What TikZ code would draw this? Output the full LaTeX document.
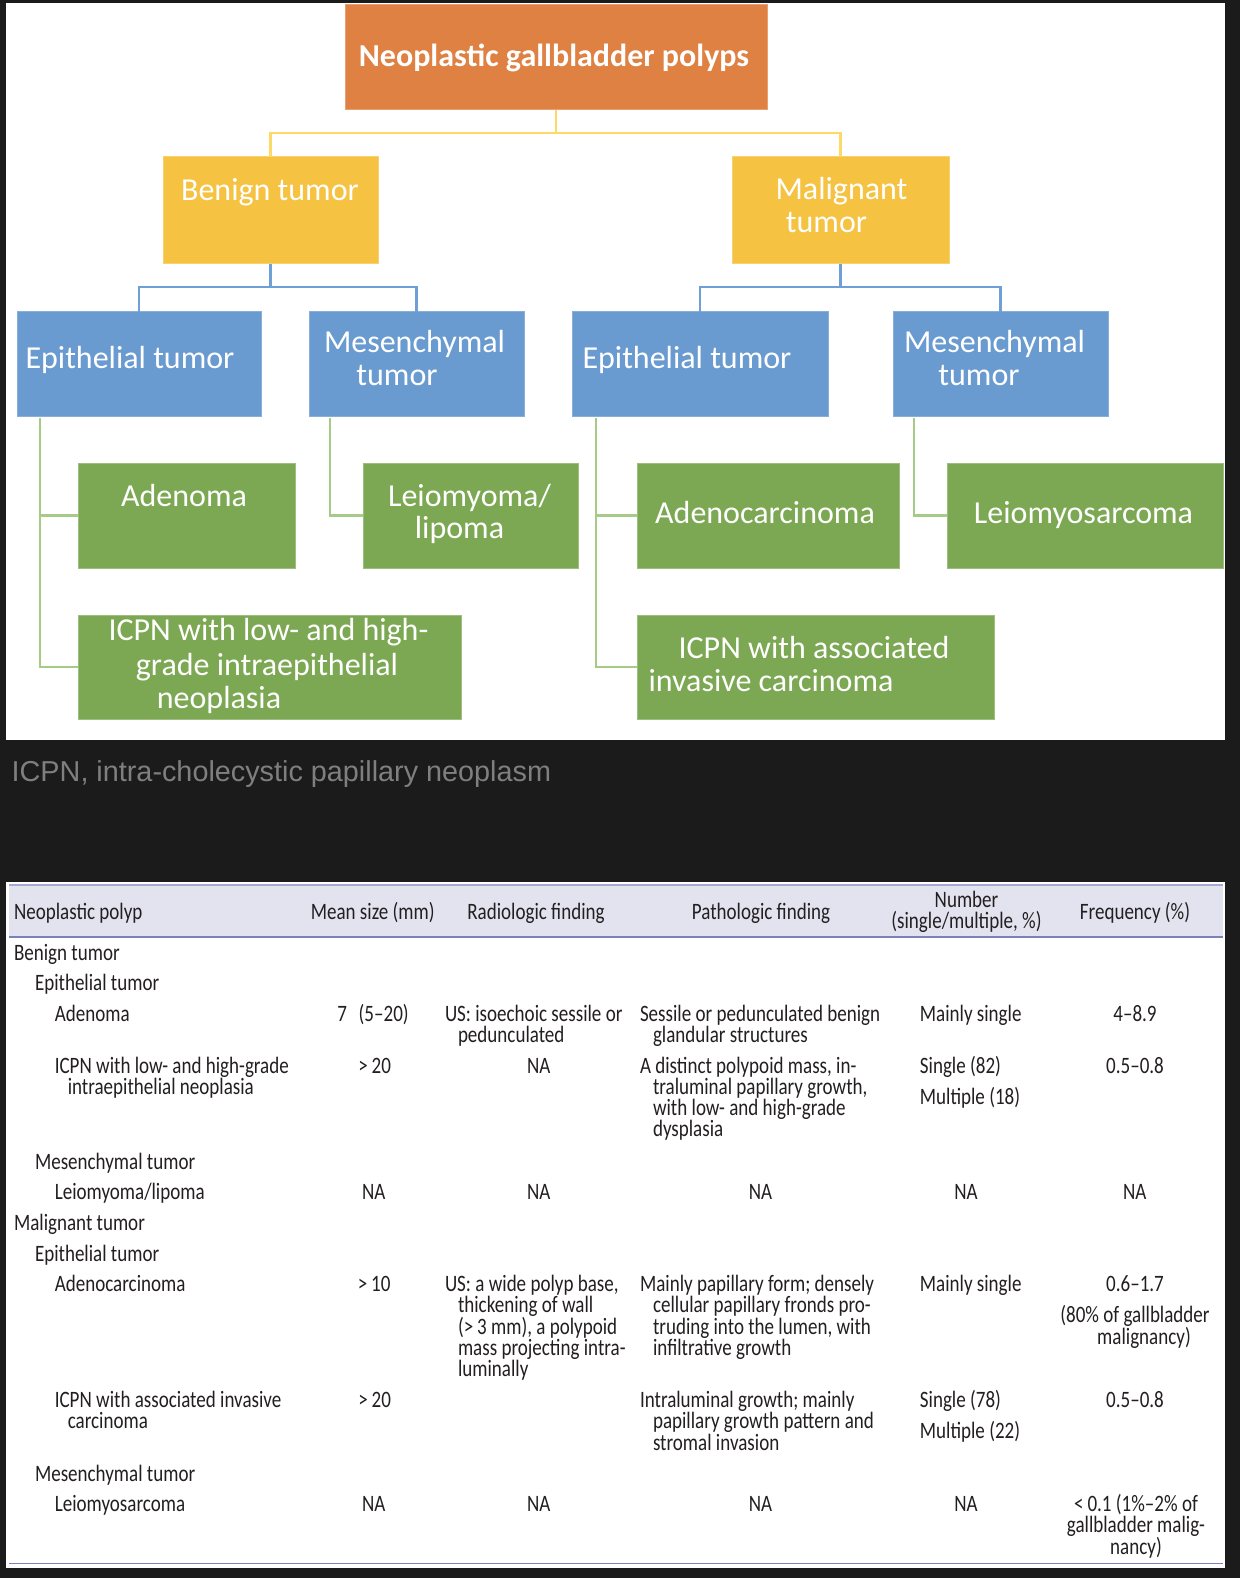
\documentclass[tikz,border=0pt]{standalone}
\usepackage{fontspec}
\setmainfont{Carlito}
\newfontfamily\tabfont{Carlito}[FakeStretch=0.81]
\newfontfamily\capfont{Liberation Sans}
\definecolor{bgdark}{HTML}{1B1B1B}
\definecolor{orangeF}{HTML}{DF8143}
\definecolor{yellowF}{HTML}{F5C242}
\definecolor{blueF}{HTML}{6A9BD0}
\definecolor{greenF}{HTML}{7CA853}
\definecolor{yconnC}{HTML}{FFD966}
\definecolor{bconnC}{HTML}{6F9FD7}
\definecolor{gconnC}{HTML}{A6CB87}
\definecolor{captxt}{HTML}{7F7F7F}
\definecolor{hdrfill}{HTML}{E3E3F0}
\definecolor{hdrline}{HTML}{7C81B9}
\definecolor{hdrtop}{HTML}{A4A8D2}
\definecolor{tabtxt}{HTML}{231F20}
\newcommand\ind{\hspace*{13pt}}
\newcommand\gap{\noalign{\vskip10pt}}
\newcommand\tcl[2][21.2pt]{\vtop{\baselineskip=#1\lineskiplimit=-100pt\lineskip=0pt\let\\\cr\halign{##\hfil\cr#2\crcr}}}
\newcommand\tcc[2][21.2pt]{\vtop{\baselineskip=#1\lineskiplimit=-100pt\lineskip=0pt\let\\\cr\halign{\hfil##\hfil\cr#2\crcr}}}
\tikzset{
  bx/.style={anchor=north west, inner sep=0pt, outer sep=0pt, line width=1pt},
  obx/.style={bx, fill=orangeF, draw=orangeF!75!white},
  ybx/.style={bx, fill=yellowF, draw=yellowF!75!white},
  bbx/.style={bx, fill=blueF, draw=blueF!80!white},
  gbx/.style={bx, fill=greenF, draw=greenF!75!white},
  yconn/.style={draw=yconnC, line width=2.6pt},
  bconn/.style={draw=bconnC, line width=2.6pt},
  gconn/.style={draw=gconnC, line width=2.6pt},
  dtx/.style={anchor=base, inner sep=0pt, text=white, font=\fontsize{32}{38}\selectfont},
  dtxb/.style={dtx, font=\bfseries\fontsize{32}{38}\selectfont},
  tl/.style={anchor=base west, inner sep=0pt, text=tabtxt, font=\tabfont\fontsize{23.5}{21.2}\selectfont},
  tcn/.style={tl, anchor=base},
}
\begin{document}
\begin{tikzpicture}[x=1pt,y=-1pt]
\fill[bgdark] (0,0) rectangle (1240,1578);
\useasboundingbox (0,0) rectangle (1240,1578);
% panels
\fill[white] (6,3) rectangle (1225,740);
\fill[white] (6,882) rectangle (1225,1568);

% ---- diagram boxes
\node[obx, minimum width=422pt, minimum height=105pt] (root) at (345,5) {};
\node[ybx, minimum width=215pt, minimum height=107pt] (benign) at (163,157) {};
\node[ybx, minimum width=217pt, minimum height=107pt] (malig) at (732,157) {};
\node[bbx, minimum width=244pt, minimum height=104pt] (bepi) at (17,312) {};
\node[bbx, minimum width=215pt, minimum height=104pt] (bmes) at (309,312) {};
\node[bbx, minimum width=256pt, minimum height=104pt] (mepi) at (572,312) {};
\node[bbx, minimum width=215pt, minimum height=104pt] (mmes) at (893,312) {};
\node[gbx, minimum width=217pt, minimum height=105pt] (aden) at (78,463) {};
\node[gbx, minimum width=215pt, minimum height=105pt] (leio) at (363,463) {};
\node[gbx, minimum width=383pt, minimum height=104pt] (icpnA) at (78,615) {};
\node[gbx, minimum width=262pt, minimum height=105pt] (adeno) at (637,463) {};
\node[gbx, minimum width=276pt, minimum height=105pt] (leios) at (947,463) {};
\node[gbx, minimum width=357pt, minimum height=104pt] (icpnB) at (637,615) {};

% ---- connectors
\coordinate (ry) at ([yshift=-23pt]root.south);
\draw[yconn] (root.south) -- (ry) -| (benign.north);
\draw[yconn] (ry) -| (malig.north);
\coordinate (by) at ([yshift=-23pt]benign.south);
\draw[bconn] (benign.south) -- (by) -| (bepi.north);
\draw[bconn] (by) -| (bmes.north);
\coordinate (my) at ([yshift=-23pt]malig.south);
\draw[bconn] (malig.south) -- (my) -| (mepi.north);
\draw[bconn] (my) -| (mmes.north);
\coordinate (g1) at ([xshift=23pt,yshift=-2pt]bepi.south west);
\draw[gconn] (g1) |- (aden.west);
\draw[gconn] (g1) |- (icpnA.west);
\coordinate (g2) at ([xshift=21pt,yshift=-2pt]bmes.south west);
\draw[gconn] (g2) |- (leio.west);
\coordinate (g3) at ([xshift=24pt,yshift=-2pt]mepi.south west);
\draw[gconn] (g3) |- (adeno.west);
\draw[gconn] (g3) |- (icpnB.west);
\coordinate (g4) at ([xshift=21pt,yshift=-2pt]mmes.south west);
\draw[gconn] (g4) |- (leios.west);

% ---- diagram texts
\node[dtxb] (rootT) at (554,67) {Neoplastic gallbladder polyps};
\node[dtx] (benT) at (270,200.7) {Benign tumor};
\node[dtx] (malT1) at (841.5,200) {Malignant};
\node[dtx] (malT2) at (826.5,233) {tumor};
\node[dtx] (bepiT) at (130,368) {Epithelial tumor};
\node[dtx] (bmesT1) at (414.5,352) {Mesenchymal};
\node[dtx] (bmesT2) at (397,385) {tumor};
\node[dtx] (mepiT) at (687,368) {Epithelial tumor};
\node[dtx] (mmesT1) at (994.5,352) {Mesenchymal};
\node[dtx] (mmesT2) at (979,385) {tumor};
\node[dtx] (adenT) at (184,506) {Adenoma};
\node[dtx] (leioT1) at (469.5,506) {Leiomyoma/};
\node[dtx] (leioT2) at (459.5,538) {lipoma};
\node[dtx] (icpnAT1) at (268.5,640.7) {ICPN with low- and high-};
\node[dtx] (icpnAT2) at (267,675) {grade intraepithelial};
\node[dtx] (icpnAT3) at (219,708) {neoplasia};
\node[dtx] (adenoT) at (765,523) {Adenocarcinoma};
\node[dtx] (leiosT) at (1083.5,523) {Leiomyosarcoma};
\node[dtx] (icpnBT1) at (814,658) {ICPN with associated};
\node[dtx] (icpnBT2) at (771,691.7) {invasive carcinoma};

% ---- caption
\node[anchor=base west, inner sep=0pt, text=captxt, font=\capfont\fontsize{28.8}{34}\selectfont] (cap) at (11.5,781.7) {ICPN, intra-cholecystic papillary neoplasm};

% ---- table header
\fill[hdrfill] (9,885) rectangle (1223,937);
\draw[hdrtop, line width=1.5pt] (9,885) -- (1223,885);
\draw[hdrline, line width=1.6pt] (9,937) -- (1223,937);
\draw[hdrline, line width=1.8pt] (9,1563.5) -- (1223,1563.5);

\node[tl] (h1) at (13.8,919.3) {Neoplastic polyp};
\node[tcn] (h2) at (372.7,919.3) {Mean size (mm)};
\node[tcn] (h3) at (536,919.3) {Radiologic finding};
\node[tcn] (h4) at (761,919.3) {Pathologic finding};
\node[tcn] (h5a) at (966.5,907.6) {Number};
\node[tcn] (h5b) at (966.5,928.6) {(single/multiple, \%)};
\node[tcn] (h6) at (1135,919.3) {Frequency (\%)};

% ---- table body
\node[tl] (r1) at (13.8,960) {Benign tumor};
\node[tl] (r2) at (34.8,990.7) {Epithelial tumor};

\node[tl] (r3a) at (54.6,1021.7) {Adenoma};
\node[tcn] (r3b) at (373,1021.7) {7\enspace(5–20)};
\node[tl] (r3c) at (444.8,1021.7) {\tcl{US: isoechoic sessile or\\\ind pedunculated}};
\node[tl] (r3d) at (639.8,1021.7) {\tcl{Sessile or pedunculated benign\\\ind glandular structures}};
\node[tl] (r3e) at (919.7,1021.7) {Mainly single};
\node[tcn] (r3f) at (1135,1021.7) {4–8.9};

\node[tl] (r4a) at (54.6,1073.3) {\tcl{ICPN with low- and high-grade\\\ind intraepithelial neoplasia}};
\node[tcn] (r4b) at (374.6,1073.3) {>\,20};
\node[tcn] (r4c) at (538.7,1073.3) {NA};
\node[tl] (r4d) at (639.8,1073.3) {\tcl{A distinct polypoid mass, in-\\\ind traluminal papillary growth,\\\ind with low- and high-grade\\\ind dysplasia}};
\node[tl] (r4e) at (919.7,1073.3) {\tcl{Single (82)\\\gap Multiple (18)}};
\node[tcn] (r4f) at (1135,1073.3) {0.5–0.8};

\node[tl] (r5) at (34.8,1169) {Mesenchymal tumor};
\node[tl] (r6a) at (54.6,1199.3) {Leiomyoma/lipoma};
\node[tcn] (r6b) at (373.7,1199.3) {NA};
\node[tcn] (r6c) at (538.7,1199.3) {NA};
\node[tcn] (r6d) at (760.4,1199.3) {NA};
\node[tcn] (r6e) at (966,1199.3) {NA};
\node[tcn] (r6f) at (1134.8,1199.3) {NA};

\node[tl] (r7) at (13.8,1230) {Malignant tumor};
\node[tl] (r8) at (34.8,1261) {Epithelial tumor};

\node[tl] (r9a) at (54.6,1291.7) {Adenocarcinoma};
\node[tcn] (r9b) at (374.2,1291.7) {>\,10};
\node[tl] (r9c) at (444.8,1291.7) {\tcl{US: a wide polyp base,\\\ind thickening of wall\\\ind (>\,3 mm), a polypoid\\\ind mass projecting intra-\\\ind luminally}};
\node[tl] (r9d) at (639.8,1291.7) {\tcl{Mainly papillary form; densely\\\ind cellular papillary fronds pro-\\\ind truding into the lumen, with\\\ind infiltrative growth}};
\node[tl] (r9e) at (919.7,1291.7) {Mainly single};
\node[tcn] (r9f) at (1135,1291.7) {\tcc{0.6–1.7\\\gap (80\% of gallbladder\\\hspace*{18pt}malignancy)}};

\node[tl] (r10a) at (54.6,1407.7) {\tcl{ICPN with associated invasive\\\ind carcinoma}};
\node[tcn] (r10b) at (374.6,1407.7) {>\,20};
\node[tl] (r10d) at (639.8,1407.7) {\tcl{Intraluminal growth; mainly\\\ind papillary growth pattern and\\\ind stromal invasion}};
\node[tl] (r10e) at (919.7,1407.7) {\tcl{Single (78)\\\gap Multiple (22)}};
\node[tcn] (r10f) at (1135,1407.7) {0.5–0.8};

\node[tl] (r11) at (34.8,1481) {Mesenchymal tumor};
\node[tl] (r12a) at (54.6,1511.7) {Leiomyosarcoma};
\node[tcn] (r12b) at (373.7,1511.7) {NA};
\node[tcn] (r12c) at (538.7,1511.7) {NA};
\node[tcn] (r12d) at (760.4,1511.7) {NA};
\node[tcn] (r12e) at (966,1511.7) {NA};
\node[tcn] (r12f) at (1136,1511.7) {\tcc{<\,0.1 (1\%–2\% of\\gallbladder malig-\\nancy)}};
\end{tikzpicture}
\end{document}
